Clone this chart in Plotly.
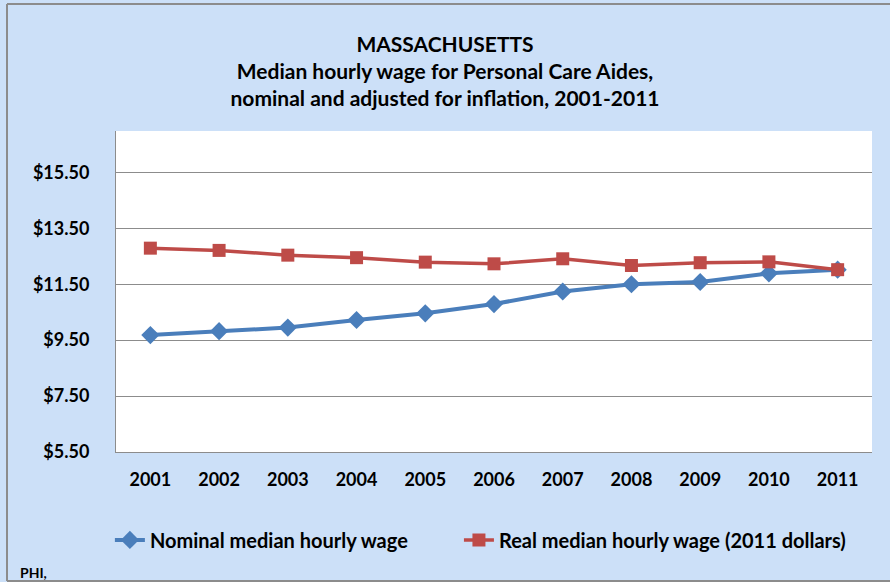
import plotly.graph_objects as go

years = ["2001", "2002", "2003", "2004", "2005", "2006", "2007", "2008", "2009", "2010", "2011"]
nominal = [9.68, 9.82, 9.95, 10.22, 10.46, 10.79, 11.24, 11.50, 11.58, 11.89, 12.02]
real = [12.79, 12.71, 12.54, 12.45, 12.29, 12.23, 12.41, 12.17, 12.27, 12.30, 12.02]
tick_vals = [5.5, 7.5, 9.5, 11.5, 13.5, 15.5]
tick_text = ["$5.50", "$7.50", "$9.50", "$11.50", "$13.50", "$15.50"]

FONT = "Lato"
BLUE = "#4A7EBB"
RED = "#BE4B48"
BG = "#CCE0F8"
GAP = "&nbsp;" * 9

fig = go.Figure()
fig.add_trace(go.Scatter(
    x=years, y=nominal, name="<b>Nominal median hourly wage</b>" + GAP, mode="lines+markers",
    line=dict(color=BLUE, width=4), marker=dict(symbol="diamond", size=14, color=BLUE)))
fig.add_trace(go.Scatter(
    x=years, y=real, name="<b>Real median hourly wage (2011 dollars)</b>", mode="lines+markers",
    line=dict(color=RED, width=3.5), marker=dict(symbol="square", size=13, color=RED)))

fig.update_layout(
    width=890, height=582,
    paper_bgcolor=BG, plot_bgcolor="white",
    margin=dict(l=116, r=18, t=131, b=130),
    font=dict(family=FONT, color="black"),
    title=dict(
        text="<b>MASSACHUSETTS<br>Median hourly wage for Personal Care Aides,<br>nominal and adjusted for inflation, 2001-2011</b>",
        x=0.5, xref="container", xanchor="center", y=0.911, yanchor="top",
        font=dict(family=FONT, size=21, color="black")),
    showlegend=True,
    legend=dict(orientation="h", x=0.482, xanchor="center", y=-0.274, yanchor="middle",
                bgcolor="rgba(0,0,0,0)", font=dict(family=FONT, size=20, color="black"),
                traceorder="normal"),
    xaxis=dict(type="category", range=[-0.5, 10.5], showgrid=False,
               showline=True, linecolor="#8C8C8C", linewidth=1,
               tickvals=years, ticktext=["<b>" + y + "</b>" for y in years],
               tickfont=dict(family=FONT, size=18, color="black"),
               ticks="", ticklabelstandoff=11),
    yaxis=dict(range=[5.5, 16.98], tickvals=tick_vals,
               ticktext=["<b>" + t + "</b>" for t in tick_text],
               showgrid=True, gridcolor="#8C8C8C", gridwidth=1,
               showline=True, linecolor="#8C8C8C", linewidth=1, zeroline=False,
               tickfont=dict(family=FONT, size=18, color="black"),
               ticks="", ticklabelstandoff=22),
)

# outer frame: left, top and bottom edges (right edge lies beyond the image)
x_left, x_right = -109/756, 1 + 80/756
y_bot, y_top = -129/321, 1 + 127/321
for (xa, ya, xb, yb) in [(x_left, y_bot, x_left, y_top),
                         (x_left, y_top, x_right, y_top),
                         (x_left, y_bot, x_right, y_bot)]:
    fig.add_shape(type="line", xref="paper", yref="paper", x0=xa, y0=ya, x1=xb, y1=yb,
                  line=dict(color="#8C8C8C", width=2), layer="below")

fig.add_annotation(text="<b>PHI,</b>", xref="paper", yref="paper",
                   x=-98/756, y=-120/321, xanchor="left", yanchor="middle",
                   showarrow=False, font=dict(family=FONT, size=14, color="black"))

fig.write_html("out.html", config={"displayModeBar": False},
               post_script="document.body.style.margin='0';")
